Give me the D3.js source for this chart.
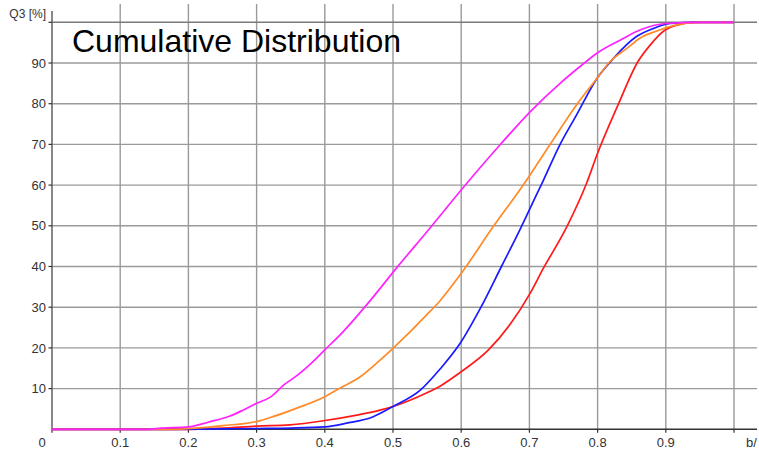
<!DOCTYPE html>
<html>
<head>
<meta charset="utf-8">
<script src="https://cdn.jsdelivr.net/npm/d3@7"></script>
<style>
  html, body { margin: 0; padding: 0; background: #fff; }
  svg { display: block; font-family: "Liberation Sans", Arial, sans-serif; }
</style>
</head>
<body>
<svg id="chart" width="759" height="452"></svg>
<script>
// Particle size (x, fraction) vs cumulative undersize Q3 in percent
const magenta = [[0,0],[0.14,0],[0.16,0.3],[0.2,0.6],[0.23,1.8],[0.26,3.2],[0.28,4.7],[0.3,6.4],[0.32,7.9],[0.34,10.9],[0.36,13.3],[0.38,16.2],[0.4,19.5],[0.427,24],[0.461,30.5],[0.505,39.6],[0.554,49.4],[0.6,58.8],[0.657,69.9],[0.701,78],[0.745,85],[0.777,89.5],[0.799,92.4],[0.833,95.6],[0.862,98.1],[0.9,99.7],[0.95,100],[1.0,100]];
const orange = [[0,0],[0.18,0],[0.22,0.4],[0.25,0.9],[0.3,1.9],[0.324,3.1],[0.359,5.2],[0.4,8.0],[0.422,10.1],[0.452,12.9],[0.481,17.0],[0.5,19.9],[0.554,28.9],[0.569,31.6],[0.6,38.3],[0.647,49.8],[0.691,60.0],[0.73,69.9],[0.769,79.7],[0.799,86.2],[0.818,90.3],[0.843,93.6],[0.862,96.1],[0.891,98.1],[0.911,99.2],[0.95,100],[1.0,100]];
const blue = [[0,0],[0.17,0],[0.25,0.1],[0.3,0.2],[0.35,0.3],[0.4,0.6],[0.432,1.5],[0.471,3.1],[0.5,5.6],[0.54,9.6],[0.569,14.8],[0.598,21],[0.628,29.7],[0.659,40],[0.686,49],[0.701,54.3],[0.72,61],[0.745,70],[0.769,77.2],[0.799,86.2],[0.823,91.1],[0.857,96.5],[0.882,98.5],[0.906,99.7],[0.95,100],[1.0,100]];
const red = [[0,0],[0.19,0],[0.25,0.3],[0.3,0.8],[0.349,1.1],[0.398,2.1],[0.447,3.5],[0.481,4.7],[0.5,5.6],[0.549,8.9],[0.569,10.6],[0.598,13.9],[0.64,19.5],[0.671,25.6],[0.701,33.4],[0.72,39.4],[0.755,49.8],[0.784,60.5],[0.799,67.4],[0.83,79.7],[0.859,90.3],[0.877,94.4],[0.899,98.1],[0.916,99.3],[0.94,100],[1.0,100]];

const xTicks = [0, 0.1, 0.2, 0.3, 0.4, 0.5, 0.6, 0.7, 0.8, 0.9];
const xTickLabels = ["0", "0.1", "0.2", "0.3", "0.4", "0.5", "0.6", "0.7", "0.8", "0.9"];
const yTicks = [10, 20, 30, 40, 50, 60, 70, 80, 90];
const gridX = [0.1, 0.2, 0.3, 0.4, 0.5, 0.6, 0.7, 0.8, 0.9, 1.0];
const gridY = [10, 20, 30, 40, 50, 60, 70, 80, 90, 100];

const seriesList = [
  { name: "red", data: red, color: "#ff1a1a" },
  { name: "blue", data: blue, color: "#1a1aff" },
  { name: "orange", data: orange, color: "#ff8a26" },
  { name: "magenta", data: magenta, color: "#ff22ff" }
];

const svg = d3.select("#chart");
const x = d3.scaleLinear().domain([0, 1]).range([52, 734]);
const y = d3.scaleLinear().domain([0, 100]).range([429.3, 22.3]);

// grid
const grid = svg.append("g");
grid.selectAll("line.gv").data(gridX).join("line")
  .attr("x1", d => x(d)).attr("x2", d => x(d))
  .attr("y1", 4).attr("y2", y(0))
  .attr("stroke", "#9a9a9a").attr("stroke-width", 1.4);
grid.selectAll("line.gh").data(gridY).join("line")
  .attr("x1", x(0)).attr("x2", 757)
  .attr("y1", d => y(d)).attr("y2", d => y(d))
  .attr("stroke", d => d === 100 ? "#7a7a7a" : "#9a9a9a").attr("stroke-width", 1.4);

// axes
const axes = svg.append("g");
axes.append("line").attr("x1", x(0)).attr("x2", x(0)).attr("y1", 11).attr("y2", y(0))
  .attr("stroke", "#6a6a6a").attr("stroke-width", 1.6);
axes.append("line").attr("x1", x(0)).attr("x2", 757).attr("y1", y(0)).attr("y2", y(0))
  .attr("stroke", "#333").attr("stroke-width", 1.6);

// y ticks and labels
axes.selectAll("line.yt").data(yTicks.concat([100])).join("line")
  .attr("x1", 48.5).attr("x2", x(0))
  .attr("y1", d => y(d)).attr("y2", d => y(d))
  .attr("stroke", "#333").attr("stroke-width", 1.2);
axes.selectAll("text.yl").data(yTicks).join("text")
  .attr("x", 46).attr("y", d => y(d)).attr("dy", "0.36em")
  .attr("text-anchor", "end").attr("font-size", 13).attr("fill", "#333")
  .text(d => d);
axes.append("text").attr("x", 46).attr("y", 18)
  .attr("text-anchor", "end").attr("font-size", 12).attr("fill", "#333")
  .text("Q3 [%]");

// x ticks and labels
axes.selectAll("line.xt").data(gridX.concat([0])).join("line")
  .attr("x1", d => x(d)).attr("x2", d => x(d))
  .attr("y1", y(0)).attr("y2", y(0) + 3.5)
  .attr("stroke", "#333").attr("stroke-width", 1.2);
axes.selectAll("text.xl").data(xTicks).join("text")
  .attr("x", (d, i) => i === 0 ? 42 : x(d)).attr("y", 447)
  .attr("text-anchor", "middle").attr("font-size", 13).attr("fill", "#333")
  .text((d, i) => xTickLabels[i]);
axes.append("text").attr("x", 746).attr("y", 447)
  .attr("text-anchor", "start").attr("font-size", 13).attr("fill", "#333")
  .text("b/");

// curves
const line = d3.line().x(d => x(d[0])).y(d => y(d[1])).curve(d3.curveMonotoneX);
svg.append("g").selectAll("path").data(seriesList).join("path")
  .attr("d", d => line(d.data))
  .attr("fill", "none").attr("stroke", d => d.color).attr("stroke-width", 1.7)
  .attr("stroke-linejoin", "round");

// title
svg.append("text").attr("x", 72).attr("y", 52)
  .attr("font-size", 32).attr("fill", "#000")
  .text("Cumulative Distribution");
</script>
</body>
</html>
